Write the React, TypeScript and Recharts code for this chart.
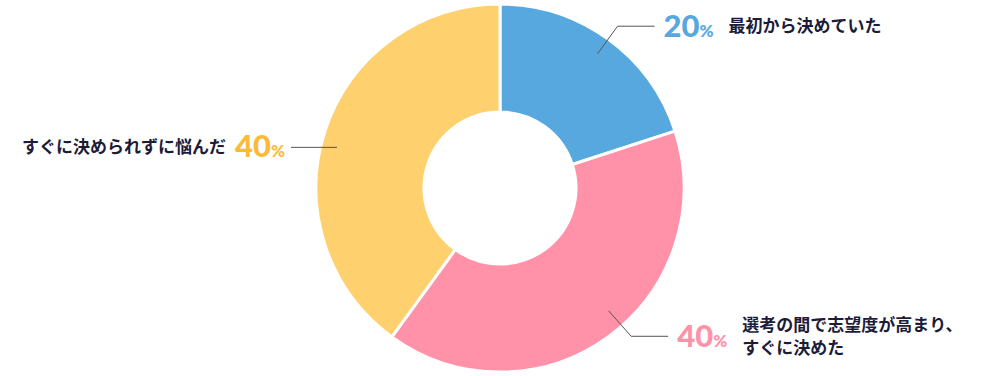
import React from 'react';
import { PieChart, Pie, Cell } from 'recharts';

const categories = ['最初から決めていた', '選考の間で志望度が高まり、\nすぐに決めた', 'すぐに決められずに悩んだ'];
const shares = [20, 40, 40];
const sliceColors = ['#58a8e0', '#ff91a8', '#ffd06e'];
const numberColors = ['#58a8e0', '#ff91a8', '#fbbb38'];

const data = categories.map((name, i) => ({ name, value: shares[i] }));

// label leader tweaks (angle shift in degrees, diagonal length)
const leader = [
  { shift: 0, r0: 166, r1: 200, run: 37 },
  { shift: 5.5, r0: 164, r1: 198, run: 37 },
  { shift: 4, r0: 168, r1: 168, run: 46 },
];

const RAD = Math.PI / 180;
const textFont = '"Noto Sans CJK JP", "Noto Sans", sans-serif';
const numFont = 'Lato, "Noto Sans", sans-serif';

const renderLabel = (props: any) => {
  const { cx, cy, midAngle, index, payload } = props;
  const cfg = leader[index];
  const a = (midAngle + cfg.shift) * RAD;
  const x0 = cx + cfg.r0 * Math.cos(a);
  const y0 = cy - cfg.r0 * Math.sin(a);
  const x1 = cx + cfg.r1 * Math.cos(a);
  const y1 = cy - cfg.r1 * Math.sin(a);
  const right = Math.cos(a) >= 0;
  const x2 = right ? x1 + cfg.run : x1 - cfg.run;
  const lines = String(payload.name).split('\n');
  const col = numberColors[index];
  const pct = shares[index];

  return (
    <g key={`lab-${index}`}>
      <polyline points={`${x0},${y0} ${x1},${y1} ${x2},${y1}`} fill="none" stroke="#555" strokeWidth={1} />
      {right ? (
        <>
          <text x={x2 + 9} y={y1 + 11} fontFamily={numFont} fontWeight={900} fill={col}>
            <tspan fontSize={31}>{pct}</tspan>
            <tspan fontSize={17}>%</tspan>
          </text>
          {lines.map((ln, k) => (
            <text
              key={k}
              x={x2 + 74}
              y={y1 + (k - (lines.length - 1) / 2) * 23}
              dy="0.36em"
              fontFamily={textFont}
              fontWeight={700}
              fontSize={17}
              fill="#1c1c38"
            >
              {ln}
            </text>
          ))}
        </>
      ) : (
        <text x={x2 - 6} y={y1} textAnchor="end" fontWeight={700}>
          <tspan fontFamily={textFont} fontSize={17} fill="#1c1c38" dy="0.36em">{lines[0]}</tspan>
          <tspan fontFamily={numFont} fontWeight={900} fontSize={31} fill={col} dx={9} dy={4}>{pct}</tspan>
          <tspan fontFamily={numFont} fontWeight={900} fontSize={17} fill={col}>%</tspan>
        </text>
      )}
    </g>
  );
};

export default function App() {
  return (
    <div style={{ position: 'absolute', left: 0, top: 0, width: 1000, height: 376, background: '#fff' }}>
      <PieChart width={1000} height={376} margin={{ top: 0, right: 0, bottom: 0, left: 0 }}>
        <Pie
          data={data}
          dataKey="value"
          cx={500}
          cy={188}
          innerRadius={76}
          outerRadius={184}
          startAngle={90}
          endAngle={-270}
          stroke="#fff"
          strokeWidth={3}
          label={renderLabel}
          labelLine={false}
          isAnimationActive={false}
        >
          {data.map((d, i) => (
            <Cell key={d.name} fill={sliceColors[i]} />
          ))}
        </Pie>
      </PieChart>
    </div>
  );
}
